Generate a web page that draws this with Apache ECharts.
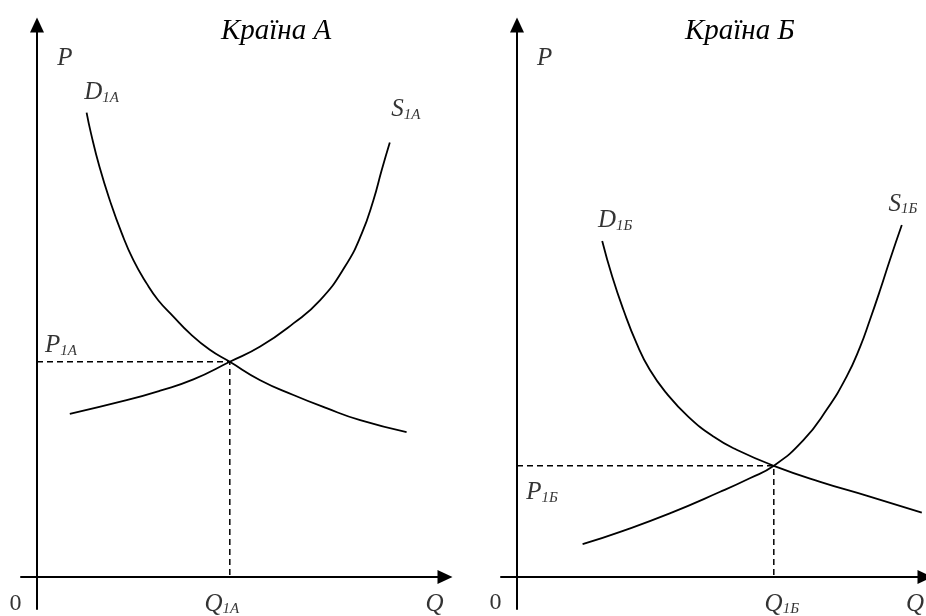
<!DOCTYPE html>
<html>
<head>
<meta charset="utf-8" />
<title>Країна А / Країна Б</title>
<script src="https://cdn.jsdelivr.net/npm/echarts@6/dist/echarts.min.js"></script>
<style>
  html, body {margin:0; padding:0; background:#fff;}
  #chart {width:926px; height:616px;}
</style>
</head>
<body>
<div id="chart"></div>
<script>
// same scale for both panels, axes cross at 0 and run a bit past it
var X_MIN = -4, X_MAX = 102, Y_MIN = -8, Y_MAX = 138;

var titles = ['Країна А', 'Країна Б'];
var subs = ['1А', '1Б'];

// Країна А
var demandA = [[12.4,116.1],[13.5,110.9],[15.6,102.6],[18.2,94.2],[21.2,85.9],[24.1,79.2],[27.4,73.4],[30.3,69.2],
               [34.1,65.1],[38.2,60.9],[43.2,56.8],[48.2,53.8],[55.8,49.2],[64.1,45.5],[72.4,42.2],[80.8,39.2],[92.4,36.2]];
var supplyA = [[8.2,40.8],[22.4,44.2],[30.8,46.6],[39.1,49.4],[48.2,53.8],[55.8,57.6],[64.1,63.4],[70.8,69.2],
               [77.0,77.6],[81.2,85.9],[84.1,94.2],[86.2,101.8],[88.2,108.6]];
var eqA = [48.2, 53.8];

// Країна Б
var demandB = [[21.3,84.0],[23.8,75.1],[26.6,66.8],[29.9,58.4],[33.2,51.8],[37.4,45.9],[42.8,40.1],[49.1,35.1],
               [54.9,31.8],[64.2,27.8],[75.8,23.8],[88.2,20.1],[101.2,16.1]];
var supplyB = [[16.4,8.2],[25.8,11.3],[38.2,15.9],[50.8,21.3],[58.2,24.7],[64.2,27.8],[71.6,34.2],[77.4,41.8],
               [82.4,50.1],[85.8,57.6],[88.2,64.2],[90.8,71.8],[93.2,79.2],[96.2,88.0]];
var eqB = [64.2, 27.8];

var FONT = 'Liberation Serif, Times New Roman, serif';
var rich = {
  m: {fontFamily: FONT, fontStyle: 'italic', fontSize: 25, lineHeight: 25, color: '#000'},
  s: {fontFamily: FONT, fontStyle: 'italic', fontSize: 15, lineHeight: 10, verticalAlign: 'bottom', color: '#000'},
  n: {fontFamily: FONT, fontStyle: 'normal', fontSize: 24, lineHeight: 25, color: '#000'}
};

// label offsets (px) from their anchor points, per panel
var offsets = [
  {P: [28, 33], D: [15, -20], S: [16, -33], P1: [24, -16], O: [-21.5, 26.5], Q1: [-8, 27], Q: [-10.5, 27]},
  {P: [27.7, 33], D: [13, -20.4], S: [1, -21], P1: [25, 27], O: [-21.5, 26], Q1: [8, 27], Q: [-10, 27]}
];

function lbl(value, text, off) {
  return {value: value, label: {formatter: text, offset: off}};
}

function panelSeries(i, demand, supply, eq) {
  var o = offsets[i], sub = subs[i];
  var line = {color: '#000', width: 1.8};
  return [
    {type: 'line', xAxisIndex: i, yAxisIndex: i, data: demand, smooth: 0.5,
     showSymbol: false, lineStyle: line, silent: true},
    {type: 'line', xAxisIndex: i, yAxisIndex: i, data: supply, smooth: 0.5,
     showSymbol: false, lineStyle: line, silent: true},
    {type: 'line', xAxisIndex: i, yAxisIndex: i,
     data: [[0, eq[1]], [eq[0], eq[1]], [eq[0], 0]],
     showSymbol: false, lineStyle: {color: '#000', width: 1.5, type: [6, 4]}, silent: true},
    {type: 'scatter', xAxisIndex: i, yAxisIndex: i, symbolSize: 1, clip: false, silent: true,
     itemStyle: {color: 'rgba(0,0,0,0)'},
     label: {show: true, position: 'inside', color: '#000', textBorderWidth: 0, rich: rich},
     data: [
       lbl([0, Y_MAX], '{m|P}', o.P),
       lbl(demand[0], '{m|D}{s|' + sub + '}', o.D),
       lbl(supply[supply.length - 1], '{m|S}{s|' + sub + '}', o.S),
       lbl([0, eq[1]], '{m|P}{s|' + sub + '}', o.P1),
       lbl([0, 0], '{n|0}', o.O),
       lbl([eq[0], 0], '{m|Q}{s|' + sub + '}', o.Q1),
       lbl([X_MAX, 0], '{m|Q}', o.Q)
     ]}
  ];
}

function xAx(i) {
  return {type: 'value', gridIndex: i, min: X_MIN, max: X_MAX,
    splitLine: {show: false}, axisTick: {show: false}, axisLabel: {show: false},
    axisLine: {onZero: true, symbol: ['none', 'triangle'], symbolSize: [14, 15],
      lineStyle: {color: '#000', width: 2}}};
}
function yAx(i) {
  return {type: 'value', gridIndex: i, min: Y_MIN, max: Y_MAX,
    splitLine: {show: false}, axisTick: {show: false}, axisLabel: {show: false},
    axisLine: {onZero: true, symbol: ['none', 'triangle'], symbolSize: [14, 15],
      lineStyle: {color: '#000', width: 2}}};
}

var titleStyle = {fontFamily: FONT, fontStyle: 'italic', fontWeight: 'normal', fontSize: 29, color: '#000'};

var chart = echarts.init(document.getElementById('chart'));
chart.setOption({
  animation: false,
  backgroundColor: '#fff',
  title: [
    {text: titles[0], left: 216, top: 12, textStyle: titleStyle},
    {text: titles[1], left: 680, top: 12, textStyle: titleStyle}
  ],
  grid: [
    {left: 21, top: 25, width: 424, height: 584},
    {left: 501, top: 25, width: 424, height: 584}
  ],
  xAxis: [xAx(0), xAx(1)],
  yAxis: [yAx(0), yAx(1)],
  series: panelSeries(0, demandA, supplyA, eqA).concat(panelSeries(1, demandB, supplyB, eqB))
});
</script>
</body>
</html>
